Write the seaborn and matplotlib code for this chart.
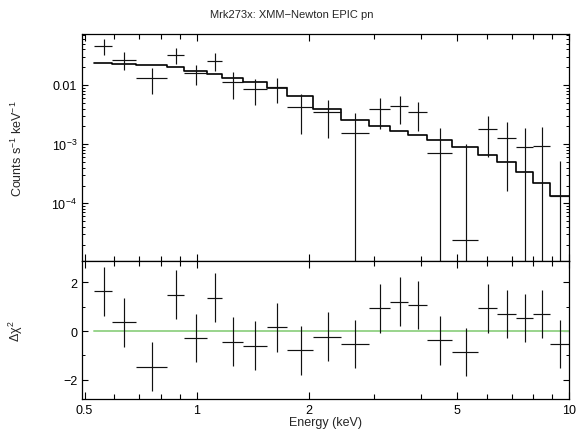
import matplotlib
matplotlib.use("Agg")
import matplotlib.pyplot as plt
import matplotlib.ticker as mticker
import numpy as np
import seaborn as sns

# ---- data ----
bin_edges = [0.531, 0.5935, 0.686, 0.834, 0.926, 1.064, 1.171, 1.334, 1.541,
             1.751, 2.056, 2.435, 2.90, 3.303, 3.70, 4.143, 4.853, 5.70, 6.39,
             7.18, 8.0, 8.87, 9.96]
counts = [0.0461, 0.0267, 0.01328, 0.0325, 0.0161, 0.0258, 0.0111, 0.00856,
          0.00914, 0.0043, 0.00345, 0.001546, 0.00393, 0.00437, 0.00345,
          0.00071, 2.41e-5, 0.00181, 0.00126, 0.000885, 0.00092, 0.000132]
count_err = [0.0137, 0.009, 0.0062, 0.0096, 0.006, 0.0088, 0.0052, 0.004,
             0.0042, 0.0028, 0.0022, 0.0018, 0.0021, 0.0022, 0.0018, 0.0012,
             0.0010, 0.0012, 0.0011, 0.0010, 0.0010, 0.00038]
model = [0.0236, 0.0229, 0.0218, 0.0199, 0.01745, 0.01535, 0.01313, 0.0111,
         0.0089, 0.00644, 0.00393, 0.002564, 0.002056, 0.00169, 0.00143,
         0.001178, 0.000885, 0.000657, 0.000493, 0.000334, 0.000218, 0.000132]
delchi = [1.63, 0.36, -1.47, 1.49, -0.29, 1.37, -0.44, -0.6, 0.15, -0.79,
          -0.23, -0.53, 0.93, 1.21, 1.07, -0.38, -0.86, 0.93, 0.7, 0.53, 0.7,
          -0.53]
delchi_err = [1.0] * len(delchi)

x_major = [0.5, 1, 2, 5, 10]
x_major_labels = ["0.5", "1", "2", "5", "10"]
x_minor = [0.6, 0.7, 0.8, 0.9, 3, 4, 6, 7, 8, 9]

title = "Mrk273x: XMM\u2212Newton EPIC pn"

# ---- style ----
sns.set_theme(style="ticks")
plt.rcParams["font.family"] = ["Liberation Sans", "DejaVu Sans"]
plt.rcParams["mathtext.default"] = "regular"
plt.rcParams["axes.linewidth"] = 0.9
plt.rcParams["axes.edgecolor"] = "black"

edges = np.array(bin_edges)
lo, hi = edges[:-1], edges[1:]
xc = 0.5 * (lo + hi)
xerr = 0.5 * (hi - lo)
counts_a = np.array(counts)
err_a = np.array(count_err)
low_err = np.minimum(err_a, counts_a - 1e-9)

fig = plt.figure(figsize=(5.76, 4.35), dpi=100)
ax1 = fig.add_axes([0.1424, 0.3977, 0.8460, 0.5218])
ax2 = fig.add_axes([0.1424, 0.0805, 0.8460, 0.3172], sharex=ax1)

# model step
step_x = list(bin_edges)
step_y = list(model) + [model[-1]]
sns.lineplot(x=step_x, y=step_y, ax=ax1, drawstyle="steps-post",
             estimator=None, sort=False, color="black", lw=1.2)
# data crosses
ax1.errorbar(xc, counts_a, xerr=xerr, yerr=[low_err, err_a], fmt="none",
             ecolor="#111111", elinewidth=0.85, capsize=0)

ax1.set_xscale("log")
ax1.set_yscale("log")
ax1.set_xlim(0.4923, 10.0)
ax1.set_ylim(1.06e-5, 0.0726)

# residuals
sns.lineplot(x=[bin_edges[0], bin_edges[-1]], y=[0, 0], ax=ax2,
             color="#99d48c", lw=1.4, estimator=None)
ax2.errorbar(xc, delchi, xerr=xerr, yerr=delchi_err, fmt="none",
             ecolor="#111111", elinewidth=0.85, capsize=0)
ax2.set_ylim(-2.79, 2.875)

# ticks
for ax in (ax1, ax2):
    ax.xaxis.set_major_locator(mticker.FixedLocator(x_major))
    ax.xaxis.set_minor_locator(mticker.FixedLocator(x_minor))
    ax.tick_params(which="both", direction="in", top=True, right=True,
                   colors="black", labelsize=9)
    ax.tick_params(axis="x", which="major", length=5, width=0.8)
    ax.tick_params(axis="x", which="minor", length=3.5, width=0.8)
    ax.tick_params(axis="y", which="major", length=4, width=0.8)
    ax.tick_params(axis="y", which="minor", length=2, width=0.7)

ax1.tick_params(axis="x", which="both", labelbottom=False)
ax2.xaxis.set_major_formatter(mticker.FixedFormatter(x_major_labels))
ax2.xaxis.set_minor_formatter(mticker.NullFormatter())

ax1.yaxis.set_major_locator(mticker.FixedLocator([1e-5, 1e-4, 1e-3, 1e-2]))
ax1.yaxis.set_minor_locator(mticker.LogLocator(base=10, subs=np.arange(2, 10), numticks=20))
ylab = {1e-2: "0.01", 1e-3: "$10^{-3}$", 1e-4: "$10^{-4}$", 1e-5: ""}
ax1.yaxis.set_major_formatter(mticker.FuncFormatter(
    lambda v, p: ylab.get(min(ylab, key=lambda k: abs(np.log10(k) - np.log10(v))), "")))
ax1.yaxis.set_minor_formatter(mticker.NullFormatter())

ax2.yaxis.set_major_locator(mticker.FixedLocator([-2, 0, 2]))
ax2.yaxis.set_minor_locator(mticker.FixedLocator([-1, 1]))

ax1.set_ylabel("Counts s$^{-1}$ keV$^{-1}$", fontsize=9)
ax2.set_ylabel(r"$\Delta\chi^2$", fontsize=9)
ax2.set_xlabel("Energy (keV)", fontsize=9, labelpad=0)
ax1.yaxis.set_label_coords(-0.118, 0.5)
ax2.yaxis.set_label_coords(-0.118, 0.5)

fig.text(0.506, 1 - 15 / 435, title, ha="center", va="center", fontsize=8)

fig.savefig("out.png", dpi=100)
